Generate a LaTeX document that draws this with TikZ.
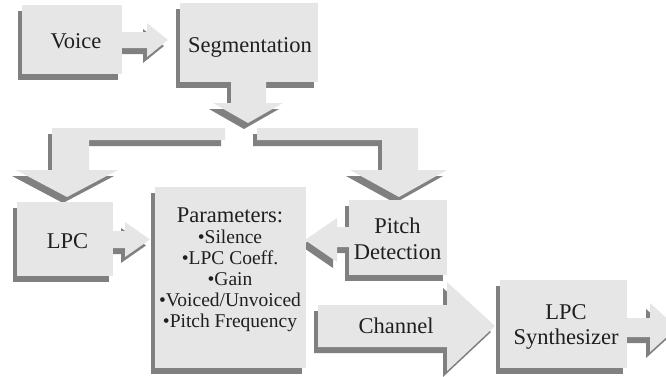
\documentclass[tikz,border=0pt]{standalone}
\usepackage{fontspec}
\setmainfont{Liberation Serif}
\pgfdeclarelayer{shadowlayer}
\pgfsetlayers{shadowlayer,main}
\definecolor{boxfill}{HTML}{E6E6E6}
\definecolor{shadowc}{HTML}{808080}
\tikzset{
  blockbox/.style={fill=boxfill, rectangle, inner sep=0pt, outer sep=0pt},
  lbl/.style={font=\fontsize{22.5}{25}\selectfont, inner sep=0pt, text=black!88},
  lstlbl/.style={font=\fontsize{19.5}{21}\selectfont, inner sep=0pt, text=black!88, align=center},
}
% a block shape: its shadow (shifted down-left) on the lower layer, its fill on top
\newcommand\blockshape[1]{%
  \begin{pgfonlayer}{shadowlayer}\fill[shadowc, shift={(-4,6)}] #1;\end{pgfonlayer}%
  \fill[boxfill] #1;}
\newcommand\boxshadow[1]{%
  \begin{pgfonlayer}{shadowlayer}\fill[shadowc] ([shift={(-4pt,-6pt)}]#1.south west) rectangle ([shift={(-4pt,-6pt)}]#1.north east);\end{pgfonlayer}}
\begin{document}
\begin{tikzpicture}[x=1pt,y=-1pt]
\useasboundingbox (0,0) rectangle (666,376);

% ---------- boxes ----------
\node[blockbox, minimum width=100pt, minimum height=69pt] (voice) at (72,39.5) {};
\node[blockbox, minimum width=138pt, minimum height=79pt] (seg) at (249,42.5) {};
\node[blockbox, minimum width=96pt, minimum height=74pt] (lpc) at (65,239) {};
\node[blockbox, minimum width=151pt, minimum height=181pt] (params) at (230.5,277.5) {};
\node[blockbox, minimum width=98pt, minimum height=75pt] (pitch) at (398,237.5) {};
\node[blockbox, minimum width=127pt, minimum height=88pt] (synth) at (563.5,324) {};
\boxshadow{voice}\boxshadow{seg}\boxshadow{lpc}\boxshadow{params}\boxshadow{pitch}\boxshadow{synth}

% ---------- block arrows ----------
% Voice -> Segmentation
\blockshape{(122,32) -- (147,32) -- (147,23) -- (168,40) -- (147,57) -- (147,48) -- (122,48) -- cycle}
% Segmentation down
\blockshape{(231,82) -- (266,82) -- (266,103) -- (283,103) -- (248,123) -- (213,103) -- (231,103) -- cycle}
% left branch to LPC
\blockshape{(225,128) -- (52,128) -- (52,170) -- (16,170) -- (67,197) -- (118,170) -- (89,170) -- (89,140) -- (225,140) -- cycle}
% right branch to Pitch Detection
\blockshape{(257,128) -- (418,128) -- (418,170) -- (447,170) -- (399,197) -- (350,170) -- (382,170) -- (382,140) -- (257,140) -- cycle}
% LPC -> Parameters
\blockshape{(113,231) -- (125,231) -- (125,222) -- (150,239.5) -- (125,257) -- (125,248) -- (113,248) -- cycle}
% Pitch Detection -> Parameters
\blockshape{(352,227) -- (337,227) -- (337,218) -- (305,240) -- (337,262) -- (337,247) -- (352,247) -- cycle}
% Channel arrow
\blockshape{(318,305) -- (447,305) -- (447,282) -- (495,326) -- (447,371) -- (447,347) -- (318,347) -- cycle}
% output arrow
\blockshape{(627,318) -- (650,318) -- (650,303) -- (677,327.5) -- (650,352) -- (650,337) -- (627,337) -- cycle}

% ---------- texts ----------
\node[lbl, anchor=base] (voiceT) at (76,48) {Voice};
\node[lbl, anchor=base] (segT) at (250,52) {Segmentation};
\node[lbl, anchor=base] (lpcT) at (67.5,248) {LPC};
\node[lstlbl] (paramsT) at (230,270.2) {{\fontsize{22.5}{21}\selectfont Parameters:}\\•Silence\\•LPC Coeff.\\•Gain\\•Voiced/Unvoiced\\•Pitch Frequency};
\node[lbl, align=center, font=\fontsize{22.5}{26}\selectfont] (pitchT) at (397.5,238.3) {Pitch\\Detection};
\node[lbl, anchor=base] (chanT) at (396,333) {Channel};
\node[lbl, align=center, font=\fontsize{22.5}{25}\selectfont] (synthT) at (566,326.5) {LPC\\Synthesizer};
\end{tikzpicture}
\end{document}
